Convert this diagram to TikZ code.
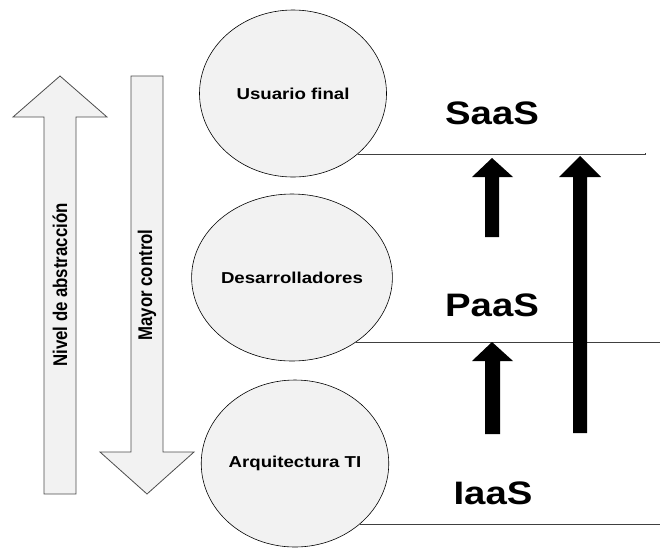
\documentclass[tikz,border=0pt]{standalone}
\usepackage{graphicx}
\usepackage{fontspec}
\setmainfont{Liberation Sans}
\usetikzlibrary{shapes.geometric}

% text is set slightly wide throughout
\newcommand{\wide}[1]{\scalebox{1.18}[1]{#1}}
\newcommand{\tall}[1]{\scalebox{1}[1.18]{#1}}

\tikzset{
  role/.style={ellipse, draw=black, line width=0.6pt, fill=black!5,
    minimum width=187pt, minimum height=167pt, inner sep=0pt,
    font=\bfseries\fontsize{15.8}{19}\selectfont},
  tier/.style={font=\bfseries\fontsize{32.5}{38}\selectfont, inner sep=0pt},
  vlabel/.style={rotate=90, font=\bfseries\fontsize{16.8}{20}\selectfont, inner sep=0pt},
  blockarrow/.style={draw=black!70, line width=0.8pt, fill=black!5, line join=miter},
  level/.style={draw=black!75, line width=0.7pt},
  solidarrow/.style={fill=black, draw=none}
}

\begin{document}
\begin{tikzpicture}[x=1pt, y=-1pt]
\useasboundingbox (0,0) rectangle (660,547);

% left block arrow, pointing up
\path[blockarrow] (60,76) -- (107,117) -- (76,117) -- (76,494) -- (44,494)
  -- (44,117) -- (13,117) -- cycle;
\node[vlabel] (abstr) at (60,285) {\tall{Nivel de abstracción}};

% second block arrow, pointing down
\path[blockarrow] (131,76) -- (163,76) -- (163,452) -- (194,452) -- (147,494)
  -- (100,452) -- (131,452) -- cycle;
\node[vlabel] (ctrl) at (147,285) {\tall{Mayor control}};

% user roles
\node[role] (user) at (293,93.5) {\wide{Usuario final}};
\node[role] (dev)  at (292,277.5) {\wide{Desarrolladores}};
\node[role] (arch) at (295,463.5) {\wide{Arquitectura TI}};

% service tiers
\node[tier] (saas) at (492,113) {\wide{SaaS}};
\node[tier] (paas) at (492,305) {\wide{PaaS}};
\node[tier] (iaas) at (493,493) {\wide{IaaS}};

\coordinate (saasEnd) at (645,153);
\coordinate (paasEnd) at (660,338);
\coordinate (iaasEnd) at (660,520);
\draw[level] (user.-43) -- (user.-43 -| saasEnd) -- (saasEnd);
\draw[level] (dev.-45) -- (dev.-45 -| paasEnd) -- (paasEnd);
\draw[level] (arch.-43) -- (arch.-43 -| iaasEnd) -- (iaasEnd);

% solid arrows between tiers
\path[solidarrow] (492,158) -- (513,177) -- (499,177) -- (499,237) -- (485,237)
  -- (485,177) -- (472,177) -- cycle;
\path[solidarrow] (492,342) -- (513,361) -- (500,361) -- (500,434) -- (485,434)
  -- (485,361) -- (472,361) -- cycle;
\path[solidarrow] (580,156) -- (601,177) -- (587,177) -- (587,433) -- (573,433)
  -- (573,177) -- (559,177) -- cycle;
\end{tikzpicture}
\end{document}
